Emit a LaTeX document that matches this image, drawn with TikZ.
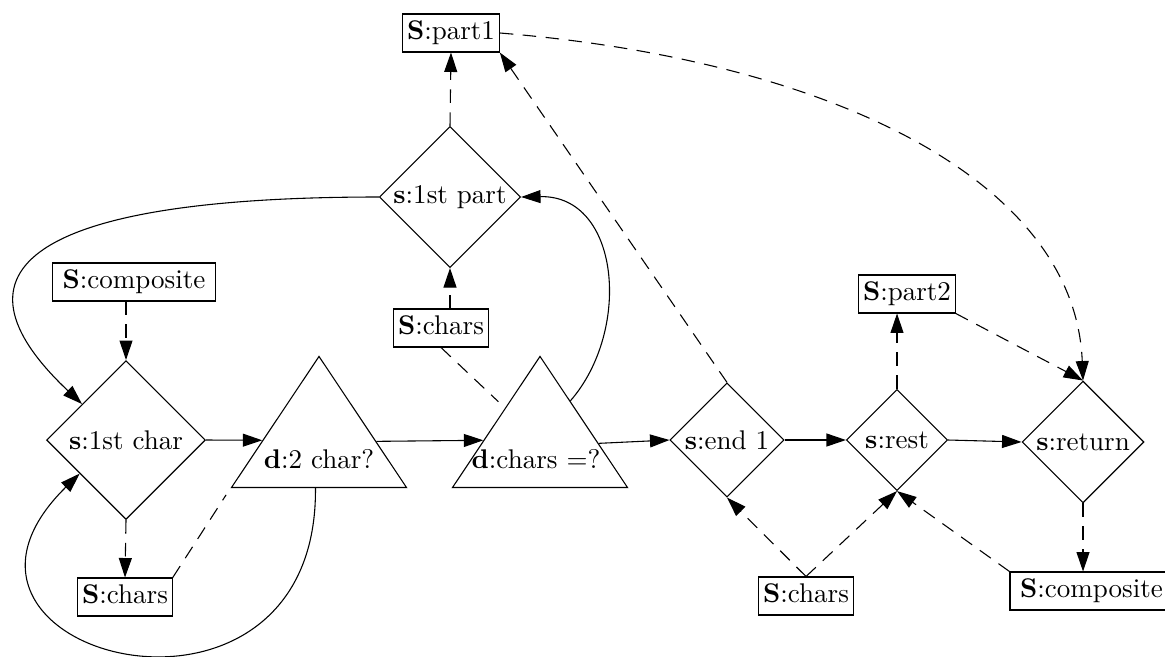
\documentclass[tikz,border=0pt]{standalone}
\usetikzlibrary{shapes.geometric,arrows.meta,calc}
\begin{document}
\begin{tikzpicture}[x=0.37pt,y=-0.37pt,
  store/.style={draw, rectangle, inner xsep=1.6pt, inner ysep=2.6pt,
    text height=6.9pt, text depth=1.94pt},
  wide/.style={minimum width=60.3pt},
  stepnode/.style={draw, diamond, aspect=1, inner sep=0pt, minimum size=#1},
  decide/.style={draw, isosceles triangle, isosceles triangle stretches,
    shape border rotate=90, minimum width=64.75pt, minimum height=48.5pt,
    inner sep=0pt},
  flow/.style={-{Triangle[length=7.2pt,width=4.8pt]}},
  data/.style={dash pattern=on 5pt off 3.5pt},
]
\useasboundingbox (0,0) rectangle (1165,656);

% stores and steps
\node[store] (p1) at (451,33) {\textbf{S}:part1};
\node[stepnode=52.2pt] (s1part) at (450,197) {\textbf{s}:1st part};
\node[store] (chU) at (441,328) {\textbf{S}:chars};
\node[store,wide] (compL) at (134,282) {\textbf{S}:composite};
\node[stepnode=58.8pt] (s1char) at (126,440) {\textbf{s}:1st char};
\node[store] (chL) at (125,597) {\textbf{S}:chars};

% decisions
\node[decide, anchor=apex] (d1) at (319,355) {};
\node (d1t) at (319,459) {\textbf{d}:2 char?};
\node[decide, anchor=apex] (d2) at (540,355) {};
\node (d2t) at (536,459) {\textbf{d}:chars =?};

\node[stepnode=42.2pt] (end1) at (727,440) {\textbf{s}:end 1};
\node[stepnode=37.4pt] (rest) at (897,440) {\textbf{s}:rest};
\node[stepnode=45.1pt] (ret) at (1083,442) {\textbf{s}:return};
\node[store] (p2) at (907,294) {\textbf{S}:part2};
\node[store] (chB) at (806,596) {\textbf{S}:chars};
\node[store,wide] (compR) at (1091.5,591) {\textbf{S}:composite};

% control flow
\draw[flow] (s1char.east) -- ($(d1.apex)!0.641!(d1.left corner)$);
\draw[flow] ($(d1.apex)!0.649!(d1.right corner)$) -- ($(d2.apex)!0.641!(d2.left corner)$);
\draw[flow] ($(d2.apex)!0.664!(d2.right corner)$) -- (end1.west);
\draw[flow] (end1.east) -- (rest.west);
\draw[flow] (rest.east) -- (ret.west);
\draw[flow] ($(d1.left corner)!0.48!(d1.right corner)$)
  .. controls (318,765) and (-105,655) .. ($(s1char.west)!0.42!(s1char.south)$);
\draw[flow] (s1part.west)
  .. controls (30,197) and (-60,270) .. ($(s1char.west)!0.45!(s1char.north)$);
\draw[flow] ($(d2.apex)!0.344!(d2.right corner)$)
  .. controls (632,330) and (620,195) .. (s1part.east);

% data flow
\draw[flow,data] (s1char.north |- compL.south) -- (s1char.north);
\draw[flow,data] (s1char.south) -- (chL.north);
\draw[data,shorten >=3pt] (chL.north east) -- (d1.left corner);
\draw[flow,data] (s1part.south |- chU.north) -- (s1part.south);
\draw[data,shorten >=3.3pt] (chU.south) -- ($(d2.apex)!0.397!(d2.left corner)$);
\draw[flow,data] (s1part.north) -- (p1.south);
\draw[flow,data] (end1.north) -- (p1.south east);
\draw[flow,data] (p1.east) .. controls (830,60) and (1075,180) .. (ret.north);
\draw[flow,data] (rest.north) -- (rest.north |- p2.south);
\draw[flow,data] (p2.south east) -- (ret.north);
\draw[flow,data] (chB.north) -- (end1.south);
\draw[flow,data] (chB.north) -- (rest.south);
\draw[flow,data] (compR.north west) -- (rest.south);
\draw[flow,data] (ret.south) -- (ret.south |- compR.north);
\end{tikzpicture}
\end{document}
